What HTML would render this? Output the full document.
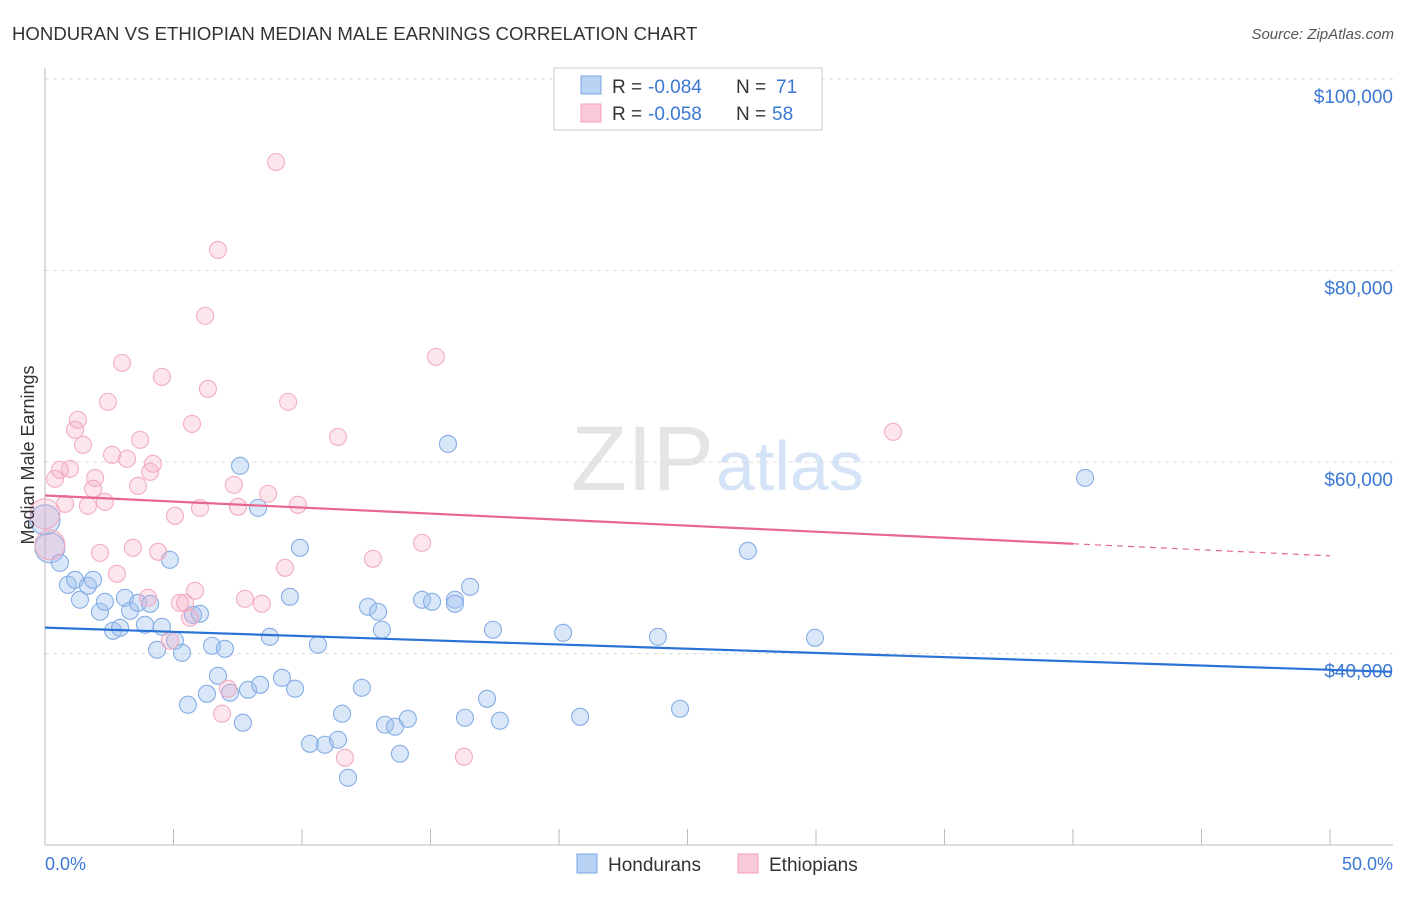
<!DOCTYPE html>
<html><head><meta charset="utf-8"><style>
body{margin:0;background:#fff;font-family:"Liberation Sans",sans-serif;}
svg text{font-family:"Liberation Sans",sans-serif;}
</style></head><body>
<svg id="chart" width="1406" height="892" viewBox="0 0 1406 892" xmlns="http://www.w3.org/2000/svg">
<text x="12" y="40" font-size="18.6" fill="#333">HONDURAN VS ETHIOPIAN MEDIAN MALE EARNINGS CORRELATION CHART</text>
<text x="1394" y="39" font-size="15" fill="#555" font-style="italic" text-anchor="end">Source: ZipAtlas.com</text>
<text x="714" y="490" font-size="92" fill="#e4e4e4" text-anchor="end" font-family="Liberation Serif">ZIP</text>
<text x="716" y="490" font-size="70" fill="#d4e3f5">atlas</text>
<g id="grid"></g>
<g id="axes"></g>
<g id="points"></g>
<g id="trends"></g>
<text transform="translate(34,455) rotate(-90)" font-size="18" fill="#333" text-anchor="middle">Median Male Earnings</text>
<text x="45" y="870" font-size="18" fill="#3a78d4">0.0%</text>
<text x="1393" y="870" font-size="18" fill="#3a78d4" text-anchor="end">50.0%</text>
<g>
<rect x="554" y="68" width="268" height="62" fill="#fff" stroke="#ccc"/>
<rect x="581" y="76" width="20" height="18" fill="#b9d3f5" stroke="#7aa6e0"/>
<rect x="581" y="104" width="20" height="18" fill="#fbcad8" stroke="#f0a0b8"/>
<text x="612" y="93" font-size="19" fill="#333">R = </text>
<text x="648" y="93" font-size="19" fill="#3a78d4">-0.084</text>
<text x="736" y="93" font-size="19" fill="#333">N = </text>
<text x="776" y="93" font-size="19" fill="#3a78d4">71</text>
<text x="612" y="120" font-size="19" fill="#333">R = </text>
<text x="648" y="120" font-size="19" fill="#3a78d4">-0.058</text>
<text x="736" y="120" font-size="19" fill="#333">N = </text>
<text x="772" y="120" font-size="19" fill="#3a78d4">58</text>
</g>
<g>
<rect x="577" y="854" width="20" height="19" fill="#b9d3f5" stroke="#7aa6e0"/>
<text x="608" y="871" font-size="19" fill="#333">Hondurans</text>
<rect x="738" y="854" width="20" height="19" fill="#fbcad8" stroke="#f0a0b8"/>
<text x="769" y="871" font-size="19" fill="#333">Ethiopians</text>
</g>
</svg>
<script>
const yTicks=[40000,60000,80000,100000];
const yTickLabels=["$40,000","$60,000","$80,000","$100,000"];
const xTicks=[0,5,10,15,20,25,30,35,40,45,50];
const hondX=[0,0.19,0.58,0.89,1.17,1.36,1.67,1.87,2.14,2.33,2.65,2.92,3.11,3.31,3.62,3.89,4.09,4.36,4.55,4.86,5.06,5.33,5.56,5.76,6.03,6.30,6.50,6.73,7.00,7.20,7.59,7.70,7.90,8.29,8.37,8.75,9.22,9.53,9.73,9.92,10.31,10.62,10.89,11.40,11.56,11.79,12.33,12.57,12.96,13.11,13.23,13.62,13.81,14.12,14.67,15.06,15.68,15.95,15.95,16.34,16.54,17.20,17.43,17.70,20.16,20.82,23.85,24.71,27.35,29.96,40.47];
const hondY=[53.96,51.04,49.47,47.17,47.70,45.61,47.07,47.70,44.36,45.40,42.37,42.68,45.82,44.46,45.29,43.00,45.19,40.39,42.79,49.78,41.33,40.07,34.65,44.04,44.15,35.79,40.81,37.67,40.49,35.90,59.60,32.77,36.21,55.21,36.73,41.74,37.46,45.92,36.32,51.04,30.57,40.91,30.47,30.99,33.71,27.02,36.42,44.88,44.36,42.48,32.56,32.35,29.53,33.18,45.61,45.40,61.89,45.61,45.19,33.29,46.96,35.27,42.48,32.98,42.16,33.39,41.74,34.23,50.72,41.64,58.34];
const ethX=[0,0.19,0.39,0.58,0.78,0.97,1.17,1.28,1.48,1.67,1.87,1.95,2.14,2.33,2.45,2.61,2.80,3.00,3.19,3.42,3.62,3.70,4.01,4.09,4.20,4.40,4.55,4.86,5.06,5.25,5.45,5.64,5.72,5.84,6.03,6.23,6.34,6.73,6.89,7.12,7.35,7.51,7.78,8.44,8.68,8.99,9.34,9.46,9.84,11.40,11.67,12.76,14.67,15.21,16.30,33.00];
const ethY=[54.59,51.35,58.24,59.18,55.63,59.28,63.36,64.40,61.79,55.42,57.20,58.34,50.51,55.84,66.28,60.75,48.32,70.35,60.33,51.04,57.51,62.31,45.82,58.97,59.81,50.62,68.89,41.33,54.38,45.29,45.29,43.73,63.98,46.55,55.21,75.26,67.64,82.15,33.71,36.32,57.61,55.32,45.71,45.19,56.67,91.33,48.95,66.28,55.53,62.62,29.11,49.89,51.56,70.98,29.22,63.15];
const hondTrend=[42.7,38.3];
const ethTrend=[56.5,50.2];
const ethTrendSolidEnd=40;

const NS="http://www.w3.org/2000/svg";
function sx(v){return 45+v*25.7;}
function sy(v){return 79+(100-v)*9.575;}
function mk(tag,attrs,parent){const e=document.createElementNS(NS,tag);for(const k in attrs)e.setAttribute(k,attrs[k]);parent.appendChild(e);return e;}
const grid=document.getElementById('grid'),axes=document.getElementById('axes'),pts=document.getElementById('points'),tr=document.getElementById('trends');
yTicks.forEach((t,i)=>{
 const y=sy(t/1000);
 const l=mk('line',{x1:45,x2:1393,y1:y,y2:y,stroke:'#ddd','stroke-dasharray':'4,4'},grid);
 
 
 const tx=mk('text',{x:1393,y:y+24,'font-size':19,fill:'#3a78d4','text-anchor':'end'},axes);
 tx.textContent=yTickLabels[i];
 
 
});
const ax=mk('line',{x1:45,x2:1393,y1:845,y2:845,stroke:'#bbb'},axes);


const ay=mk('line',{x1:45,x2:45,y1:68,y2:845,stroke:'#bbb'},axes);


xTicks.forEach(t=>{
 const x=sx(t);
 const l=mk('line',{x1:x,x2:x,y1:829,y2:845,stroke:'#bbb'},axes);
 
 
});
function drawPts(X,Y,fill,stroke,name){
 X.forEach((x,i)=>{
  const r=i<2?15:8.5;
  const c=mk('circle',{cx:sx(x),cy:sy(Y[i]),r:r,fill:fill,stroke:stroke,'stroke-width':1.1},pts);
  
  
 });
}
drawPts(hondX,hondY,'rgba(160,195,240,0.4)','#86ade4','honduran-point');
drawPts(ethX,ethY,'rgba(245,170,195,0.3)','#f2adc2','ethiopian-point');
const hl=mk('line',{x1:sx(0),y1:sy(hondTrend[0]),x2:sx(52.4),y2:sy(hondTrend[0]+(hondTrend[1]-hondTrend[0])*52.4/50),stroke:'#2b72d6','stroke-width':2.2},tr);


const ey=v=>ethTrend[0]+(ethTrend[1]-ethTrend[0])*v/50;
const el1=mk('line',{x1:sx(0),y1:sy(ey(0)),x2:sx(ethTrendSolidEnd),y2:sy(ey(ethTrendSolidEnd)),stroke:'#e8678f','stroke-width':2.2},tr);


const el2=mk('line',{x1:sx(ethTrendSolidEnd),y1:sy(ey(ethTrendSolidEnd)),x2:sx(50),y2:sy(ey(50)),stroke:'#e8678f','stroke-width':1.2,'stroke-dasharray':'6,5'},tr);


</script>
</body></html>
